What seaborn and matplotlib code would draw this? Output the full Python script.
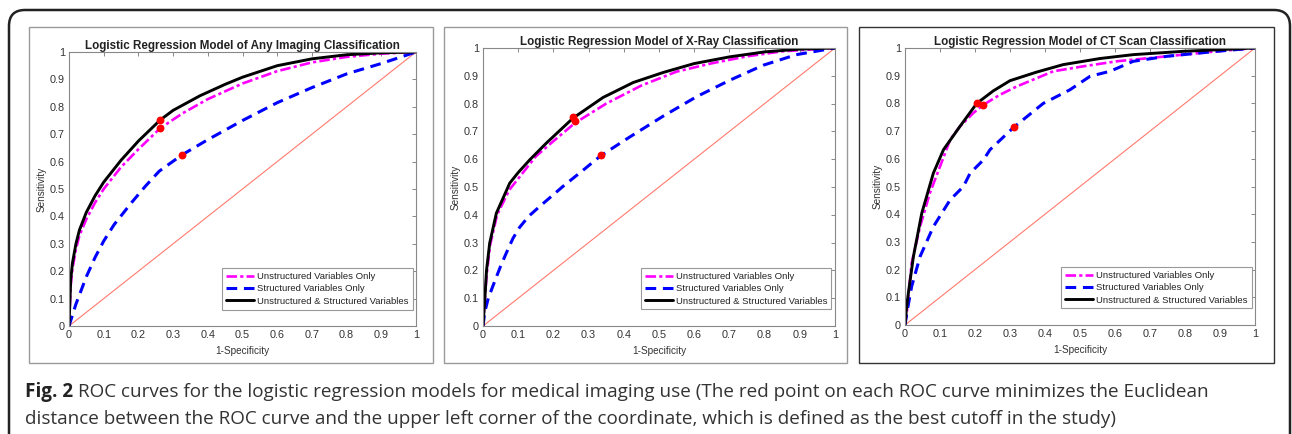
import numpy as np
import pandas as pd
import matplotlib
matplotlib.use("Agg")
import matplotlib.pyplot as plt
import seaborn as sns
from matplotlib.patches import Rectangle, FancyBboxPatch
from matplotlib.transforms import IdentityTransform

# ---- data (1-specificity, sensitivity) ----
titles = ["Logistic Regression Model of Any Imaging Classification",
          "Logistic Regression Model of X-Ray Classification",
          "Logistic Regression Model of CT Scan Classification"]
series_names = ["Unstructured Variables Only", "Structured Variables Only",
                "Unstructured & Structured Variables"]

# Any imaging
any_unstr_x = [0, 0.005, 0.01, 0.02, 0.03, 0.05, 0.075, 0.1, 0.15, 0.2, 0.263, 0.327, 0.4, 0.5, 0.6, 0.7, 0.8, 0.9, 1]
any_unstr_y = [0, 0.15, 0.21, 0.28, 0.33, 0.39, 0.45, 0.50, 0.58, 0.645, 0.722, 0.776, 0.828, 0.885, 0.93, 0.962, 0.982, 0.994, 1]
any_str_x = [0, 0.01, 0.02, 0.035, 0.05, 0.075, 0.1, 0.13, 0.18, 0.22, 0.26, 0.325, 0.4, 0.5, 0.6, 0.7, 0.8, 0.9, 1]
any_str_y = [0, 0.04, 0.08, 0.13, 0.18, 0.25, 0.31, 0.37, 0.45, 0.51, 0.565, 0.624, 0.68, 0.75, 0.815, 0.87, 0.92, 0.958, 1]
any_both_x = [0, 0.005, 0.01, 0.02, 0.03, 0.05, 0.075, 0.1, 0.15, 0.2, 0.263, 0.3, 0.377, 0.45, 0.5, 0.6, 0.7, 0.8, 0.9, 1]
any_both_y = [0, 0.17, 0.23, 0.30, 0.35, 0.415, 0.475, 0.525, 0.605, 0.675, 0.752, 0.787, 0.84, 0.882, 0.908, 0.95, 0.975, 0.99, 0.997, 1]

# X-ray
xr_unstr_x = [0, 0.005, 0.01, 0.02, 0.04, 0.075, 0.1, 0.15, 0.2, 0.261, 0.35, 0.45, 0.55, 0.65, 0.75, 0.85, 1]
xr_unstr_y = [0, 0.09, 0.18, 0.29, 0.40, 0.49, 0.53, 0.61, 0.665, 0.73, 0.80, 0.865, 0.915, 0.945, 0.97, 0.988, 1]
xr_str_x = [0, 0.005, 0.015, 0.033, 0.05, 0.066, 0.085, 0.104, 0.13, 0.161, 0.227, 0.284, 0.334, 0.417, 0.512, 0.607, 0.701, 0.796, 0.89, 1]
xr_str_y = [0, 0.05, 0.1, 0.16, 0.215, 0.262, 0.315, 0.355, 0.395, 0.43, 0.502, 0.56, 0.612, 0.68, 0.755, 0.825, 0.884, 0.938, 0.976, 1]
xr_both_x = [0, 0.005, 0.01, 0.019, 0.038, 0.076, 0.1, 0.133, 0.18, 0.256, 0.341, 0.427, 0.512, 0.6, 0.7, 0.8, 0.9, 1]
xr_both_y = [0, 0.094, 0.2, 0.298, 0.406, 0.514, 0.552, 0.598, 0.658, 0.748, 0.822, 0.876, 0.912, 0.944, 0.968, 0.986, 0.996, 1]

# CT scan
ct_unstr_x = [0, 0.005, 0.019, 0.043, 0.071, 0.1, 0.129, 0.157, 0.195, 0.224, 0.271, 0.319, 0.424, 0.51, 0.605, 0.748, 0.89, 1]
ct_unstr_y = [0, 0.042, 0.223, 0.355, 0.476, 0.572, 0.669, 0.717, 0.765, 0.795, 0.831, 0.861, 0.916, 0.934, 0.952, 0.97, 0.988, 1]
ct_str_x = [0, 0.005, 0.019, 0.043, 0.081, 0.129, 0.167, 0.186, 0.224, 0.243, 0.31, 0.395, 0.471, 0.529, 0.586, 0.652, 0.748, 0.89, 1]
ct_str_y = [0, 0.042, 0.139, 0.247, 0.355, 0.452, 0.5, 0.548, 0.596, 0.633, 0.713, 0.80, 0.849, 0.898, 0.916, 0.952, 0.97, 0.988, 1]
ct_both_x = [0, 0.005, 0.0095, 0.024, 0.048, 0.081, 0.11, 0.157, 0.205, 0.252, 0.3, 0.376, 0.452, 0.557, 0.652, 0.795, 1]
ct_both_y = [0, 0.07, 0.114, 0.247, 0.404, 0.548, 0.633, 0.717, 0.80, 0.845, 0.882, 0.913, 0.94, 0.962, 0.976, 0.988, 1]

# best cutoff points (red)
any_cut_x = [0.263, 0.325, 0.263]
any_cut_y = [0.722, 0.624, 0.752]
xr_cut_x = [0.261, 0.334, 0.256]
xr_cut_y = [0.736, 0.614, 0.751]
ct_cut_x = [0.224, 0.31, 0.205]
ct_cut_y = [0.795, 0.713, 0.80]

tick_vals = [0, 0.1, 0.2, 0.3, 0.4, 0.5, 0.6, 0.7, 0.8, 0.9, 1]
tick_labels = ["0", "0.1", "0.2", "0.3", "0.4", "0.5", "0.6", "0.7", "0.8", "0.9", "1"]

caption_bold = "Fig. 2"
caption_1 = ("ROC curves for the logistic regression models for medical imaging use (The red point on each "
             "ROC curve minimizes the Euclidean")
caption_2 = ("distance between the ROC curve and the upper left corner of the coordinate, which is defined as "
             "the best cutoff in the study)")

panels = [
    ([any_unstr_x, any_str_x, any_both_x], [any_unstr_y, any_str_y, any_both_y], any_cut_x, any_cut_y),
    ([xr_unstr_x, xr_str_x, xr_both_x], [xr_unstr_y, xr_str_y, xr_both_y], xr_cut_x, xr_cut_y),
    ([ct_unstr_x, ct_str_x, ct_both_x], [ct_unstr_y, ct_str_y, ct_both_y], ct_cut_x, ct_cut_y),
]

sns.set_style("white")
plt.rcParams["font.family"] = ["Liberation Sans", "DejaVu Sans"]

W, H = 1292, 434
fig = plt.figure(figsize=(W / 100, H / 100), dpi=100)

# axes rectangles in pixels: left, top, right, bottom
axes_px = [(69, 52, 416, 326), (483, 48, 835, 326), (905, 48, 1255, 325)]
boxes_px = [(29, 27, 433, 363, "#9a9a9a"), (444, 27, 847, 363, "#9a9a9a"), (859, 27, 1274, 363, "#333333")]

# outer rounded frame
fig.patches.append(FancyBboxPatch((9, -40), 1281, H - 10 + 40,
                                  boxstyle="round,pad=0,rounding_size=16",
                                  transform=IdentityTransform(), fill=False,
                                  edgecolor="#222222", linewidth=1.8))
for l, t, r, b, c in boxes_px:
    fig.patches.append(Rectangle((l / W, 1 - b / H), (r - l) / W, (b - t) / H,
                                 transform=fig.transFigure, fill=False,
                                 edgecolor=c, linewidth=1.0))

styles = [
    dict(color="#ff00ff", linestyle=(0, (4, 1.2, 1.2, 1.2)), linewidth=1.9),
    dict(color="#0000ff", linestyle=(0, (3.5, 2.2)), linewidth=2.2),
    dict(color="black", linestyle="-", linewidth=2.1),
]

for i, (xs, ys, cx, cy) in enumerate(panels):
    l, t, r, b = axes_px[i]
    ax = fig.add_axes([l / W, 1 - b / H, (r - l) / W, (b - t) / H])
    ax.plot([0, 1], [0, 1], color="#ff7a6e", linewidth=0.8)
    for name, x, y, st in zip(series_names, xs, ys, styles):
        df = pd.DataFrame({"x": x, "y": y})
        sns.lineplot(data=df, x="x", y="y", ax=ax, estimator=None, sort=False,
                     label=name, **st)
    sns.scatterplot(x=cx, y=cy, ax=ax, color="red", s=32, edgecolor="red",
                    linewidth=0, zorder=5)
    ax.set_xlim(0, 1)
    ax.set_ylim(0, 1)
    ax.set_xticks(tick_vals)
    ax.set_xticklabels(tick_labels)
    ax.set_yticks(tick_vals)
    ax.set_yticklabels(tick_labels)
    ax.tick_params(direction="in", length=3, width=0.7, colors="#888888",
                   labelcolor="#333333", labelsize=7.8, top=True, right=True, pad=3)
    for sp in ax.spines.values():
        sp.set_color("#888888")
        sp.set_linewidth(0.8)
    ax.set_title(titles[i], fontsize=8.4, fontweight="bold", color="#222222", pad=2)
    ax.set_xlabel("1-Specificity", fontsize=7.2, color="#333333", labelpad=4)
    ax.set_ylabel("Sensitivity", fontsize=7.2, color="#333333", labelpad=2)
    leg = ax.legend(loc="lower right", bbox_to_anchor=(0.99, 0.06), borderaxespad=0,
                    fontsize=6.8, frameon=True, fancybox=False, framealpha=1,
                    edgecolor="#999999", handlelength=3.0, handletextpad=0.3,
                    labelspacing=0.35, borderpad=0.4)
    leg.get_frame().set_linewidth(0.8)
    for txt in leg.get_texts():
        txt.set_color("#222222")

cap_font = ["Open Sans", "DejaVu Sans"]
cap_size = 13.6
tb = fig.text(25 / W, 1 - 392 / H, caption_bold, fontsize=cap_size, fontweight="bold",
              family=cap_font, color="#222222", va="center")
fig.canvas.draw()
bb = tb.get_window_extent()
fig.text((bb.x1 + 5) / W, 1 - 392 / H, caption_1, fontsize=cap_size,
         family=cap_font, color="#333333", va="center")
fig.text(25 / W, 1 - 419 / H, caption_2, fontsize=cap_size,
         family=cap_font, color="#333333", va="center")

fig.savefig("out.png", dpi=100)
